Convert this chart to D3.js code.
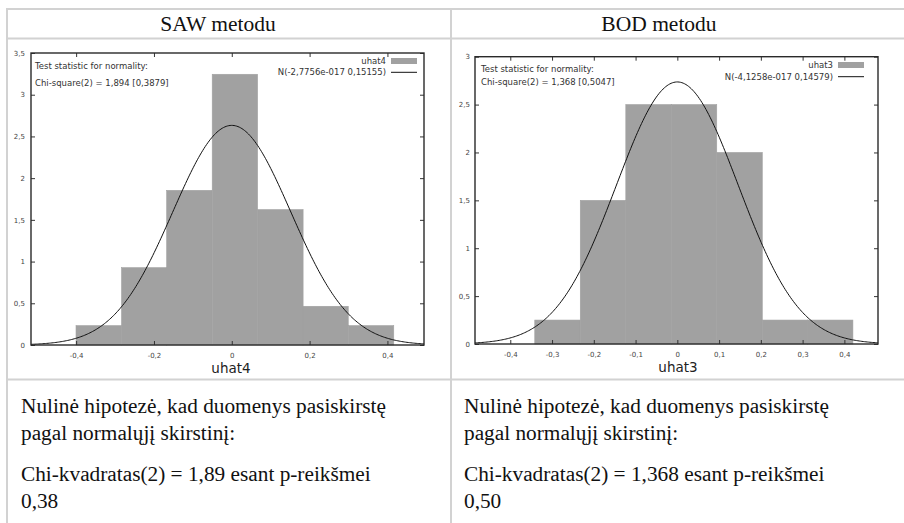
<!DOCTYPE html>
<html>
<head>
<meta charset="utf-8">
<script src="https://cdn.jsdelivr.net/npm/d3@7"></script>
<style>
  body { margin: 0; background: #fff; }
  svg { display: block; }
</style>
</head>
<body>
<script>
// histogram data (density per bin)
const sawBinCenters = [-0.342, -0.225, -0.109, 0.008, 0.125, 0.241, 0.358];
const sawDensity = [0.232, 0.927, 1.854, 3.245, 1.623, 0.464, 0.232];
const sawBinWidth = 0.1166;
const sawMean = -2.7756e-17, sawSd = 0.15155;

const bodBinCenters = [-0.287, -0.178, -0.069, 0.040, 0.149, 0.258, 0.366];
const bodDensity = [0.25, 1.5, 2.5, 2.5, 2.0, 0.25, 0.25];
const bodBinWidth = 0.1088;
const bodMean = -4.1258e-17, bodSd = 0.14579;

const sawXTicks = [-0.4, -0.2, 0, 0.2, 0.4];
const bodXTicks = [-0.4, -0.3, -0.2, -0.1, 0, 0.1, 0.2, 0.3, 0.4];
const sawYTicks = [0, 0.5, 1, 1.5, 2, 2.5, 3, 3.5];
const bodYTicks = [0, 0.5, 1, 1.5, 2, 2.5, 3];

const headers = ["SAW metodu", "BOD metodu"];
const bodyLines = [
  ["Nulinė hipotezė, kad duomenys pasiskirstę", "pagal normalųjį skirstinį:", "Chi-kvadratas(2) = 1,89 esant p-reikšmei", "0,38"],
  ["Nulinė hipotezė, kad duomenys pasiskirstę", "pagal normalųjį skirstinį:", "Chi-kvadratas(2) = 1,368 esant p-reikšmei", "0,50"]
];

const W = 904, H = 523;
const locale = d3.formatLocale({decimal: ",", thousands: " ", grouping: [3], currency: ["", ""], minus: "-"});
const fmt = locale.format(".1~f");

const svg = d3.select("body").append("svg")
  .attr("width", W).attr("height", H);

// table grid
const gridColor = "#d2d2d2";
const grid = svg.append("g").attr("stroke", gridColor).attr("stroke-width", 2);
[9, 38.5, 379.5].forEach(y => grid.append("line").attr("x1", 6).attr("x2", W).attr("y1", y).attr("y2", y));
[7, 451].forEach(x => grid.append("line").attr("x1", x).attr("x2", x).attr("y1", 8).attr("y2", H));

const serif = "'Liberation Serif', 'Times New Roman', serif";

// header
const headerX = [218, 659];
headers.forEach((t, i) => {
  svg.append("text")
    .attr("x", headerX[i]).attr("y", 31)
    .attr("text-anchor", "middle")
    .style("font-family", serif)
    .style("font-size", "21.5px")
    .attr("fill", "#111")
    .text(t);
});

// bottom text cells
const bodyX = [21, 464];
const bodyY = [413, 440, 481, 508];
bodyLines.forEach((lines, i) => {
  lines.forEach((t, j) => {
    svg.append("text")
      .attr("x", bodyX[i]).attr("y", bodyY[j])
      .style("font-family", serif)
      .style("font-size", "21.3px")
      .attr("fill", "#111")
      .text(t);
  });
});

function drawHist(cfg) {
  const g = svg.append("g");
  const x = d3.scaleLinear().domain(cfg.xDomain).range([cfg.left, cfg.right]);
  const y = d3.scaleLinear().domain([0, cfg.yMax]).range([cfg.bottom, cfg.top]);
  const font = "'DejaVu Sans', Verdana, sans-serif";

  // bars
  g.selectAll("rect.bar").data(cfg.centers).join("rect")
    .attr("class", "bar")
    .attr("x", c => x(c - cfg.binWidth / 2))
    .attr("width", c => x(c + cfg.binWidth / 2) - x(c - cfg.binWidth / 2))
    .attr("y", (c, i) => y(cfg.density[i]))
    .attr("height", (c, i) => y(0) - y(cfg.density[i]))
    .attr("fill", "#a1a1a1")
    .attr("stroke", "#a1a1a1")
    .attr("stroke-width", 0.6);

  // normal density curve
  const pdf = v => Math.exp(-0.5 * ((v - cfg.mean) / cfg.sd) ** 2) / (cfg.sd * Math.sqrt(2 * Math.PI));
  const xs = d3.range(0, 301).map(k => cfg.xDomain[0] + (cfg.xDomain[1] - cfg.xDomain[0]) * k / 300);
  g.append("path")
    .datum(xs)
    .attr("fill", "none")
    .attr("stroke", "#111")
    .attr("stroke-width", 1)
    .attr("d", d3.line().x(v => x(v)).y(v => y(pdf(v))));

  // inward ticks on all sides
  const tickStyle = sel => {
    sel.select(".domain").remove();
    sel.selectAll("line").attr("stroke", "#333");
    sel.selectAll("text").remove();
  };
  g.append("g").attr("transform", `translate(0,${cfg.bottom})`)
    .call(d3.axisTop(x).tickValues(cfg.xTicks).tickSize(4)).call(tickStyle);
  g.append("g").attr("transform", `translate(0,${cfg.top})`)
    .call(d3.axisBottom(x).tickValues(cfg.xTicks).tickSize(4)).call(tickStyle);
  g.append("g").attr("transform", `translate(${cfg.left},0)`)
    .call(d3.axisRight(y).tickValues(cfg.yTicks).tickSize(4)).call(tickStyle);
  g.append("g").attr("transform", `translate(${cfg.right},0)`)
    .call(d3.axisLeft(y).tickValues(cfg.yTicks).tickSize(4)).call(tickStyle);

  // tick labels
  const xLab = g.append("g").attr("transform", `translate(0,${cfg.bottom})`)
    .call(d3.axisBottom(x).tickValues(cfg.xTicks).tickSize(0).tickPadding(8).tickFormat(fmt));
  xLab.select(".domain").remove();
  xLab.selectAll("text").style("font-family", font).style("font-size", "7px").attr("fill", "#444");

  const yLab = g.append("g").attr("transform", `translate(${cfg.left},0)`)
    .call(d3.axisLeft(y).tickValues(cfg.yTicks).tickSize(0).tickPadding(cfg.yPad).tickFormat(fmt));
  yLab.select(".domain").remove();
  yLab.selectAll("text").style("font-family", font).style("font-size", "7px").attr("fill", "#444");

  // frame
  g.append("rect")
    .attr("x", cfg.left).attr("y", cfg.top)
    .attr("width", cfg.right - cfg.left).attr("height", cfg.bottom - cfg.top)
    .attr("fill", "none").attr("stroke", "#2a2a2a").attr("stroke-width", 1.4);

  // test statistic text
  cfg.statLines.forEach((t, i) => {
    g.append("text")
      .attr("x", cfg.statX).attr("y", cfg.statY[i])
      .style("font-family", font).style("font-size", "8.5px")
      .attr("fill", "#333")
      .text(t);
  });

  // legend
  g.append("text")
    .attr("x", cfg.legX).attr("y", cfg.legY[0] + 3)
    .attr("text-anchor", "end")
    .style("font-family", font).style("font-size", "8.5px").attr("fill", "#333")
    .text(cfg.legNames[0]);
  g.append("rect")
    .attr("x", cfg.legX + 5).attr("y", cfg.legY[0] - 3)
    .attr("width", 26).attr("height", 6)
    .attr("fill", "#a1a1a1");
  g.append("text")
    .attr("x", cfg.legX).attr("y", cfg.legY[1] + 3)
    .attr("text-anchor", "end")
    .style("font-family", font).style("font-size", "8.5px").attr("fill", "#333")
    .text(cfg.legNames[1]);
  g.append("line")
    .attr("x1", cfg.legX + 5).attr("x2", cfg.legX + 31)
    .attr("y1", cfg.legY[1]).attr("y2", cfg.legY[1])
    .attr("stroke", "#111").attr("stroke-width", 1);

  // x label
  g.append("text")
    .attr("x", cfg.xLabelX).attr("y", cfg.bottom + 28)
    .attr("text-anchor", "middle")
    .style("font-family", font).style("font-size", "13.5px").attr("fill", "#222")
    .text(cfg.xLabel);
}

drawHist({
  left: 31, right: 424, top: 53, bottom: 345,
  xDomain: [-0.516, 0.494], yMax: 3.5,
  centers: sawBinCenters, density: sawDensity, binWidth: sawBinWidth,
  mean: sawMean, sd: sawSd,
  xTicks: sawXTicks, yTicks: sawYTicks, yPad: 6,
  statX: 35, statY: [68.7, 85.7],
  statLines: ["Test statistic for normality:", "Chi-square(2) = 1,894 [0,3879]"],
  legX: 386, legY: [61, 72.3],
  legNames: ["uhat4", "N(-2,7756e-017 0,15155)"],
  xLabel: "uhat4", xLabelX: 231
});

drawHist({
  left: 475, right: 878, top: 56.7, bottom: 344,
  xDomain: [-0.4845, 0.4805], yMax: 3,
  centers: bodBinCenters, density: bodDensity, binWidth: bodBinWidth,
  mean: bodMean, sd: bodSd,
  xTicks: bodXTicks, yTicks: bodYTicks, yPad: 5,
  statX: 481, statY: [72.3, 84.9],
  statLines: ["Test statistic for normality:", "Chi-square(2) = 1,368 [0,5047]"],
  legX: 833, legY: [65, 76.7],
  legNames: ["uhat3", "N(-4,1258e-017 0,14579)"],
  xLabel: "uhat3", xLabelX: 678
});
</script>
</body>
</html>
